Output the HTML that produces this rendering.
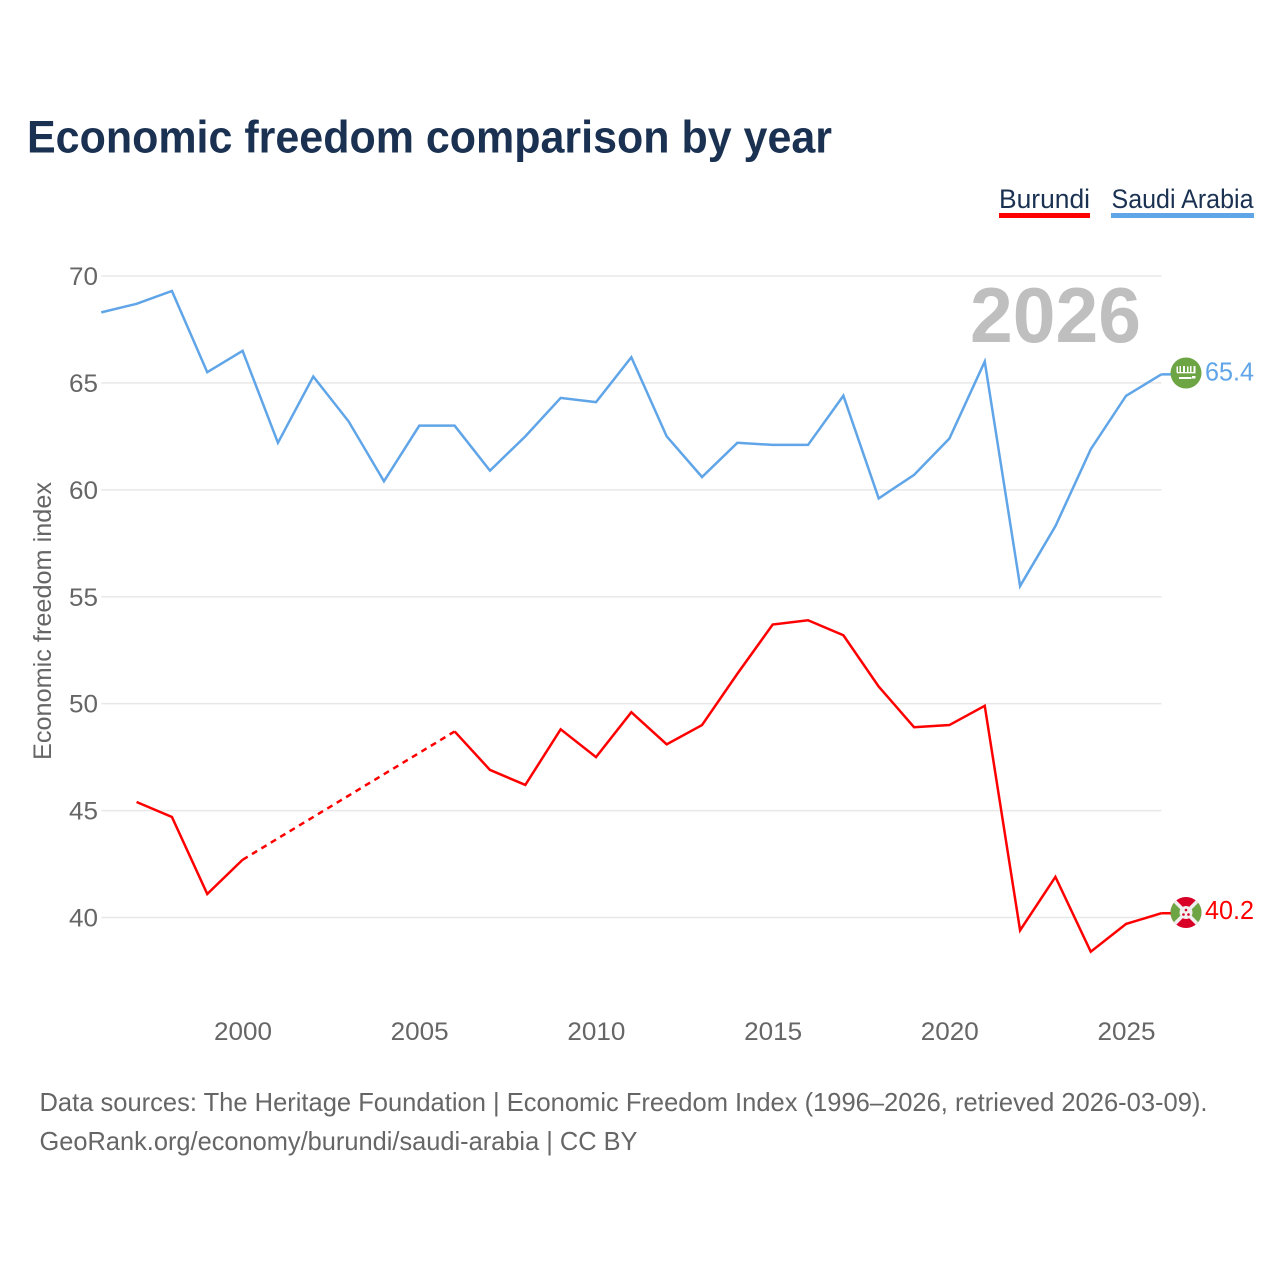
<!DOCTYPE html>
<html lang="en">
<head>
<meta charset="utf-8">
<title>Economic freedom comparison by year</title>
<style>
html,body{margin:0;padding:0;background:#fff;width:1280px;height:1280px;overflow:hidden}
svg{display:block}
text{font-family:"Liberation Sans",sans-serif}
</style>
</head>
<body>
<svg id="chart" xmlns="http://www.w3.org/2000/svg" width="1280" height="1280" viewBox="0 0 1280 1280">
  <text x="27" y="152.500" font-size="45" font-weight="700" fill="#1a3152" textLength="805" lengthAdjust="spacingAndGlyphs">Economic freedom comparison by year</text>

  <g>
    <g>
      <text x="999" y="208" font-size="27" fill="#1a3152" textLength="91" lengthAdjust="spacingAndGlyphs">Burundi</text>
      <rect x="999" y="213" width="91" height="5" fill="#ff0000"/>
    </g>
    <g>
      <text x="1111.500" y="208" font-size="27" fill="#1a3152" textLength="142" lengthAdjust="spacingAndGlyphs">Saudi Arabia</text>
      <rect x="1111" y="213" width="143" height="5" fill="#60a5e8"/>
    </g>
  </g>

  <g id="grid"></g>
  <g id="yticks"></g>
  <g id="xticks"></g>

  <text transform="translate(51,621) rotate(-90)" text-anchor="middle" font-size="25" fill="#666666" textLength="278" lengthAdjust="spacingAndGlyphs">Economic freedom index</text>

  <text x="1141" y="342" text-anchor="end" font-size="78" font-weight="700" fill="#bfbfbf" textLength="171" lengthAdjust="spacingAndGlyphs">2026</text>

  <g id="series"></g>

  <g transform="translate(1186,373)">
    <circle r="15.500" fill="#6da544"/>
    <g fill="#ffffff">
      <rect x="-9.500" y="-6.500" width="1.500" height="6"/>
      <rect x="-6.500" y="-7" width="1.500" height="6"/>
      <rect x="-3" y="-7" width="2" height="6.500"/>
      <rect x="1" y="-6.500" width="1.500" height="6"/>
      <rect x="4" y="-7" width="1.500" height="6.500"/>
      <rect x="7.500" y="-7" width="2" height="6.500"/>
      <rect x="-9" y="-1" width="18.500" height="1.300"/>
      <rect x="-7" y="4" width="12.500" height="2"/>
      <rect x="6" y="3" width="3.500" height="2.500"/>
    </g>
  </g>

  <g transform="translate(1186,912.500)">
    <defs><clipPath id="flag-clip"><circle r="15.500"/></clipPath></defs>
    <g clip-path="url(#flag-clip)">
      <rect x="-16" y="-16" width="32" height="32" fill="#d80027"/>
      <polygon points="-16,-16 0,0 -16,16" fill="#6da544"/>
      <polygon points="16,-16 0,0 16,16" fill="#6da544"/>
      <line x1="-16" y1="-16" x2="16" y2="16" stroke="#f0f0f0" stroke-width="3.500"/>
      <line x1="16" y1="-16" x2="-16" y2="16" stroke="#f0f0f0" stroke-width="3.500"/>
      <circle r="6.500" fill="#f0f0f0"/>
      <circle cx="0" cy="-2.500" r="1.300" fill="#d80027"/>
      <circle cx="-2.500" cy="2" r="1.300" fill="#d80027"/>
      <circle cx="2.500" cy="2" r="1.300" fill="#d80027"/>
    </g>
  </g>

  <text x="39.500" y="1111" font-size="26" fill="#666666" textLength="1168" lengthAdjust="spacingAndGlyphs">Data sources: The Heritage Foundation | Economic Freedom Index (1996–2026, retrieved 2026-03-09).</text>
  <text x="39.500" y="1150" font-size="26" fill="#666666" textLength="598" lengthAdjust="spacingAndGlyphs">GeoRank.org/economy/burundi/saudi-arabia | CC BY</text>
</svg>

<script>
const years = [1996,1997,1998,1999,2000,2001,2002,2003,2004,2005,2006,2007,2008,2009,2010,2011,2012,2013,2014,2015,2016,2017,2018,2019,2020,2021,2022,2023,2024,2025,2026];
const saudiValues = [68.3,68.7,69.3,65.5,66.5,62.2,65.3,63.2,60.4,63.0,63.0,60.9,62.5,64.3,64.1,66.2,62.5,60.6,62.2,62.1,62.1,64.4,59.6,60.7,62.4,66.0,55.5,58.3,61.9,64.4,65.4];
const burundiValues = [null,45.4,44.7,41.1,42.7,null,null,null,null,null,48.7,46.9,46.2,48.8,47.5,49.6,48.1,49.0,51.4,53.7,53.9,53.2,50.8,48.9,49.0,49.9,39.4,41.9,38.4,39.7,40.2];
const yTicks = [40,45,50,55,60,65,70];
const xTicks = [2000,2005,2010,2015,2020,2025];

const NS = 'http://www.w3.org/2000/svg';
const xScale = function (yr) { return 242.6 + (yr - 2000) * (1126.1 - 242.6) / 25; };
const yScale = function (v) { return 917.5 - (v - 40) * (917.5 - 276) / 30; };

function mk(tag, attrs, parent, txt) {
  const el = document.createElementNS(NS, tag);
  Object.keys(attrs).forEach(function (k) { el.setAttribute(k, attrs[k]); });
  if (txt !== undefined) el.textContent = txt;
  parent.appendChild(el);
  return el;
}

const gridG = document.getElementById('grid');
const yG = document.getElementById('yticks');
const xG = document.getElementById('xticks');
const seriesG = document.getElementById('series');

yTicks.forEach(function (t) {
  const ln = mk('line', {x1: xScale(1996), x2: xScale(2026), y1: yScale(t), y2: yScale(t), stroke: '#e8e8e8', 'stroke-width': 1.5}, gridG);
  
  
  const lb = mk('text', {x: 98, y: yScale(t) + 9, 'text-anchor': 'end', 'font-size': 25, fill: '#666666', textLength: 29, lengthAdjust: 'spacingAndGlyphs'}, yG, String(t));
  
  
});

xTicks.forEach(function (t) {
  const lb = mk('text', {x: xScale(t) + 0.4, y: 1040, 'text-anchor': 'middle', 'font-size': 25, fill: '#666666', textLength: 58, lengthAdjust: 'spacingAndGlyphs'}, xG, String(t));
  
  
});

function drawSeries(values, color) {
  let solid = [];
  let lastIdx = null;
  function flush() {
    if (solid.length > 1) {
      const p = mk('polyline', {points: solid.join(' '), fill: 'none', stroke: color, 'stroke-width': 2.5, 'stroke-linejoin': 'miter'}, seriesG);
      
      
    }
    solid = [];
  }
  values.forEach(function (v, i) {
    if (v === null) return;
    const pt = xScale(years[i]) + ',' + yScale(v);
    if (lastIdx !== null && i - lastIdx > 1) {
      flush();
      const d = mk('line', {x1: xScale(years[lastIdx]), y1: yScale(values[lastIdx]), x2: xScale(years[i]), y2: yScale(v), stroke: color, 'stroke-width': 2.5, 'stroke-dasharray': '6 5'}, seriesG);
      
      
    }
    solid.push(pt);
    lastIdx = i;
  });
  flush();
  const lastV = values[values.length - 1];
  const ly = yScale(lastV);
  const conn = mk('line', {x1: xScale(2026), y1: ly, x2: 1172, y2: ly, stroke: color, 'stroke-width': 2.5}, seriesG);
  
  
  const val = mk('text', {x: 1205, y: ly + 6, 'font-size': 26, fill: color, textLength: 49, lengthAdjust: 'spacingAndGlyphs'}, seriesG, lastV.toFixed(1));
  
  
}

drawSeries(saudiValues, '#60a5e8');
drawSeries(burundiValues, '#ff0000');
</script>
</body>
</html>
